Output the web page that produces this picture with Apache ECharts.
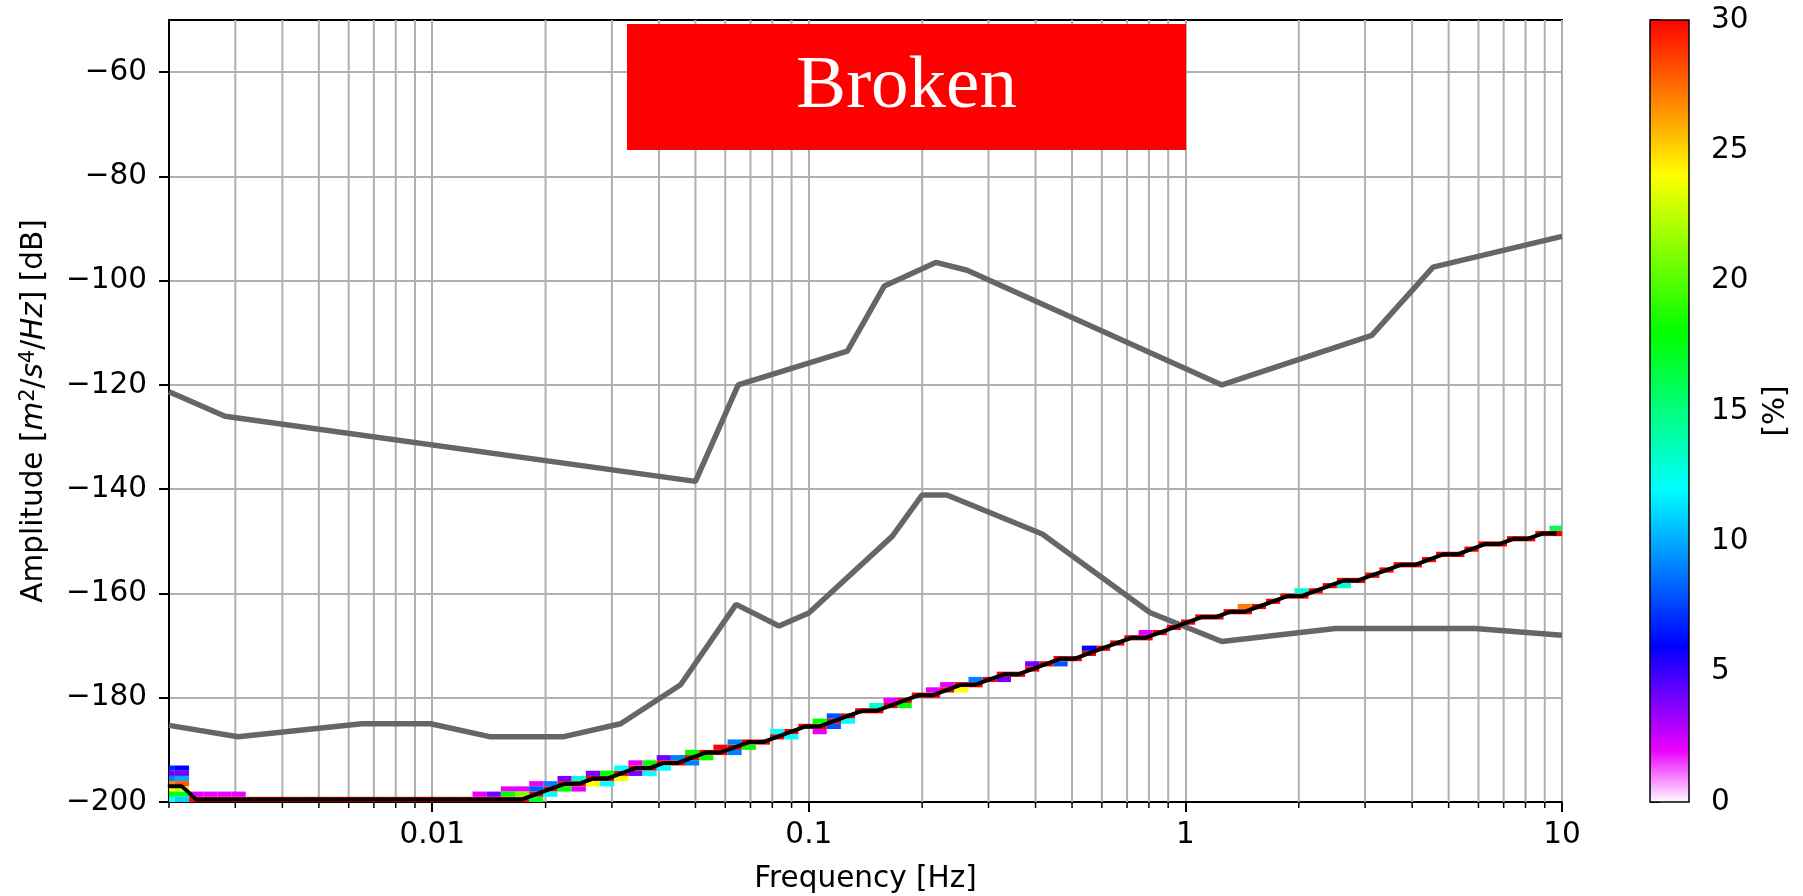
<!DOCTYPE html>
<html><head><meta charset="utf-8">
<script src="https://cdn.jsdelivr.net/npm/echarts@6/dist/echarts.min.js"></script>
<style>html,body{margin:0;padding:0;background:#fff}#c{width:1803px;height:896px}</style>
</head><body><div id="c"></div>
<script>
// ---------- DATA ----------
// frequency bins (1/8 octave) of the probability density columns [Hz]
const freqBins = [0.0019856,0.0021653,0.0023613,0.002575,0.0028081,0.0030622,0.0033394,0.0036416,0.0039712,0.0043306,
0.0047226,0.00515,0.0056161,0.0061244,0.0066787,0.0072832,0.0079424,0.0086612,0.0094452,0.0103,
0.011232,0.012249,0.013357,0.014566,0.015885,0.017322,0.01889,0.0206,0.022464,0.024498,
0.026715,0.029133,0.03177,0.034645,0.037781,0.0412,0.044929,0.048995,0.05343,0.058265,
0.063539,0.06929,0.075561,0.0824,0.089858,0.097991,0.10686,0.11653,0.12708,0.13858,
0.15112,0.1648,0.17972,0.19598,0.21372,0.23306,0.25416,0.27716,0.30224,0.3296,
0.35943,0.39196,0.42744,0.46612,0.50831,0.55432,0.60449,0.6592,0.71886,0.78393,
0.85487,0.93225,1.0166,1.1086,1.209,1.3184,1.4377,1.5679,1.7098,1.8645,
2.0332,2.2173,2.418,2.6368,2.8755,3.1357,3.4195,3.729,4.0665,4.4346,
4.8359,5.2736,5.7509,6.2714,6.839,7.4579,8.1329,8.869,9.6717];

// mean PSD (black curve) [dB]
const meanDb = [-197,-197,-199.5,-199.5,-199.5,-199.5,-199.5,-199.5,-199.5,-199.5,
-199.5,-199.5,-199.5,-199.5,-199.5,-199.5,-199.5,-199.5,-199.5,-199.5,
-199.5,-199.5,-199.5,-199.5,-199.5,-199.5,-198.5,-197.5,-196.5,-196.5,
-195.5,-195.5,-194.5,-193.5,-193.5,-192.5,-192.5,-191.5,-190.5,-190.5,
-189.5,-188.5,-188.5,-187.5,-186.5,-185.5,-185.5,-184.5,-183.5,-182.5,
-182.5,-181.5,-180.5,-179.5,-179.5,-178.5,-177.5,-177.5,-176.5,-175.5,
-175.5,-174.5,-173.5,-172.5,-172.5,-171.5,-170.5,-169.5,-168.5,-168.5,
-167.5,-166.5,-165.5,-164.5,-164.5,-163.5,-163.5,-162.5,-161.5,-160.5,
-160.5,-159.5,-158.5,-157.5,-157.5,-156.5,-155.5,-154.5,-154.5,-153.5,
-152.5,-152.5,-151.5,-150.5,-150.5,-149.5,-149.5,-148.5,-148.5];

// most populated 1-dB bin (lower edge) per column; these cells are saturated (>= 30 %)
const modeBin = [null,null,-200,-200,-200,-200,-200,-200,-200,-200,
-200,-200,-200,-200,-200,-200,-200,-200,-200,-200,
-200,-200,-200,-200,-200,-200,-199,-198,-197,-197,
-196,-196,-195,-194,-194,-193,-193,-192,-191,-191,
-190,-189,-189,-188,-187,-186,-186,-185,-184,-183,
-183,-182,-181,-180,-180,-179,-178,-178,-177,-176,
-176,-175,-174,-173,-173,-172,-171,-170,-169,-169,
-168,-167,-166,-165,-165,-164,-164,-163,-162,-161,
-161,-160,-159,-158,-158,-157,-156,-155,-155,-154,
-153,-153,-152,-151,-151,-150,-150,-149,-149];
const modePct = 60;

// other populated cells: [column index, dB bin lower edge, percent]
const extraCells = [
[0,-194,7],[0,-195,4],[0,-196,9],[0,-197,27],[0,-198,24],[0,-199,18],[0,-200,12],
[1,-194,6],[1,-195,4],[1,-196,10],[1,-197,28],[1,-198,23],[1,-199,17],[1,-200,11],
[2,-199,2],[3,-199,2],[4,-199,2],[5,-199,2],
[22,-199,2],[23,-199,4],[24,-198,2],[24,-199,18],[25,-198,2],[25,-199,21],
[26,-197,2],[26,-198,8],[26,-200,17],[27,-197,9],[27,-199,12],
[28,-196,4],[28,-198,18],[29,-196,13],[29,-198,2],[30,-195,4],[30,-197,24],
[31,-195,18],[31,-197,12],[32,-194,12],[32,-196,24],[33,-193,2],[33,-195,4],
[34,-193,18],[34,-195,12],[35,-192,4],[35,-194,12],[36,-192,9],
[37,-191,18],[37,-193,9],[38,-192,18],[39,-190,40],[40,-189,9],[40,-191,9],
[41,-190,18],[43,-187,12],[44,-188,12],[46,-185,18],[46,-187,2],
[47,-184,8],[47,-186,8],[48,-185,12],[50,-182,13],[51,-181,2],[52,-182,18],
[54,-179,2],[55,-178,2],[56,-179,24],[57,-177,9],[59,-177,4],[61,-174,4],
[63,-174,8],[65,-171,6],[69,-168,2],[76,-163,27],[80,-160,13],[83,-159,13],[98,-148,16]
];

// reference noise models (grey curves)
const highModelFreq = [0.002,0.002818,0.05,0.06494,0.1266,0.1587,0.2174,0.2632,1.25,3.125,4.545,10];
const highModelDb   = [-121.3,-126.0,-138.5,-120.0,-113.5,-101.0,-96.5,-98.0,-120.0,-110.5,-97.4,-91.5];
const lowModelFreq  = [0.002,0.003049,0.006494,0.009901,0.01429,0.02222,0.03165,0.04566,0.0641,0.08333,0.1,0.1667,0.2,0.2326,0.4167,0.8065,1.25,2.5,5.882,10];
const lowModelDb    = [-185.3,-187.5,-185.0,-185.0,-187.5,-187.5,-185.0,-177.5,-162.1,-166.25,-163.75,-149.0,-141.1,-141.1,-148.6,-163.7,-169.2,-166.7,-166.7,-168.0];

// axes
const xMin = 0.002, xMax = 10;
const yMin = -200, yMax = -50, yStep = 20;
const xTickValues = [0.01, 0.1, 1, 10];
const xTickLabels = ['0.01', '0.1', '1', '10'];
const yTickValues = [-200, -180, -160, -140, -120, -100, -80, -60];
const xMinorTicks = [0.002,0.003,0.004,0.005,0.006,0.007,0.008,0.009,
  0.02,0.03,0.04,0.05,0.06,0.07,0.08,0.09,
  0.2,0.3,0.4,0.5,0.6,0.7,0.8,0.9,
  2,3,4,5,6,7,8,9];
const cbMin = 0, cbMax = 30, cbStep = 5;
const dbBinWidth = 1;
const annotationText = 'Broken';

// colormap (evenly spaced from 0 to 30 %)
const palette = ['#ffffff','#eb00ff','#7500ff','#0000ff','#0055ff','#00aaff','#00ffff','#00ffaa',
  '#00ff55','#00ff00','#55ff00','#aaff00','#ffff00','#ffaa00','#ff5500','#ff0000'];

// ---------- BUILD ----------
const n = freqBins.length;
function loEdge(i){ return i > 0 ? Math.sqrt(freqBins[i-1]*freqBins[i]) : freqBins[0]*freqBins[0]/Math.sqrt(freqBins[0]*freqBins[1]); }
function hiEdge(i){ return i < n-1 ? Math.sqrt(freqBins[i]*freqBins[i+1]) : freqBins[i]*freqBins[i]/Math.sqrt(freqBins[i-1]*freqBins[i]); }
const cellData = [];
modeBin.forEach((b, i) => { if (b !== null) cellData.push([loEdge(i), hiEdge(i), b, modePct]); });
extraCells.forEach(c => cellData.push([loEdge(c[0]), hiEdge(c[0]), c[1], c[2]]));

const FONT = 'DejaVu Sans';
const FS = 29.5;
const minus = v => (v < 0 ? '\u2212' + Math.abs(v) : String(v));

const chart = echarts.init(document.getElementById('c'), null, {renderer: 'canvas'});
chart.setOption({
  animation: false,
  backgroundColor: '#ffffff',
  textStyle: {fontFamily: FONT},
  grid: [
    {left: 169, top: 20, width: 1393, height: 782, show: true, borderColor: '#000', borderWidth: 2,
     backgroundColor: 'transparent', containLabel: false, outerBoundsMode: 'none'},
    {left: 1650, top: 20, width: 39, height: 782, show: false, containLabel: false, outerBoundsMode: 'none'}
  ],
  visualMap: {
    type: 'continuous', show: false, min: cbMin, max: cbMax, dimension: 3, seriesIndex: 1,
    inRange: {color: palette}, outOfRange: {color: palette[palette.length - 1]}
  },
  xAxis: [
    {type: 'log', logBase: 10, gridIndex: 0, min: xMin, max: xMax,
     axisLine: {show: true, onZero: false, lineStyle: {color: '#000', width: 2}},
     axisTick: {show: true, length: 10, lineStyle: {color: '#000', width: 2}, customValues: xTickValues},
     axisLabel: {show: true, fontSize: FS, fontFamily: FONT, color: '#000', margin: 18, customValues: xTickValues,
       formatter: v => { const k = xTickValues.findIndex(t => Math.abs(Math.log10(v) - Math.log10(t)) < 1e-6); return k >= 0 ? xTickLabels[k] : ''; }},
     splitLine: {show: true, lineStyle: {color: '#b0b0b0', width: 2}},
     name: 'Frequency [Hz]', nameLocation: 'middle', nameGap: 62,
     nameTextStyle: {fontSize: FS, fontFamily: FONT, color: '#000'}},
    {type: 'value', gridIndex: 1, min: 0, max: 1, show: false}
  ],
  yAxis: [
    {type: 'value', gridIndex: 0, min: yMin, max: yMax, interval: yStep,
     axisLine: {show: true, onZero: false, lineStyle: {color: '#000', width: 2}},
     axisTick: {show: true, length: 10, lineStyle: {color: '#000', width: 2}, customValues: yTickValues},
     axisLabel: {fontSize: FS, fontFamily: FONT, color: '#000', margin: 22, customValues: yTickValues, formatter: minus},
     splitLine: {show: true, lineStyle: {color: '#b0b0b0', width: 2}},
     name: 'Amplitude [{it|m}{sup|2}/{it|s}{sup|4}/{it|Hz}] [dB]', nameLocation: 'middle', nameGap: 118, nameRotate: 90,
     nameTextStyle: {fontSize: FS, fontFamily: FONT, color: '#000',
       rich: {it: {fontStyle: 'italic', fontSize: FS, fontFamily: FONT, color: '#000'},
              sup: {fontSize: 21, fontFamily: FONT, color: '#000', padding: [0, 0, 12, 0]}}}},
    {type: 'value', gridIndex: 1, min: cbMin, max: cbMax, interval: cbStep, position: 'right',
     axisLine: {show: false},
     axisTick: {show: true, length: 10, lineStyle: {color: '#000', width: 2}},
     axisLabel: {fontSize: FS, fontFamily: FONT, color: '#000', margin: 22},
     splitLine: {show: false},
     name: '[%]', nameLocation: 'middle', nameGap: 72, nameRotate: 90,
     nameTextStyle: {fontSize: FS, fontFamily: FONT, color: '#000'}}
  ],
  series: [
    { // minor log grid lines + minor ticks
      type: 'custom', xAxisIndex: 0, yAxisIndex: 0, z: 1, silent: true, clip: false,
      data: xMinorTicks.map(f => [f, yMin]),
      encode: {x: 0, y: 1},
      renderItem: (params, api) => {
        const f = api.value(0);
        const bot = api.coord([f, yMin]), top = api.coord([f, yMax]);
        const children = [];
        if (f > xMin) children.push({type: 'line', shape: {x1: bot[0], y1: bot[1], x2: top[0], y2: top[1]},
          style: {stroke: '#b0b0b0', lineWidth: 2}});
        children.push({type: 'line', shape: {x1: bot[0], y1: bot[1], x2: bot[0], y2: bot[1] + 6},
          style: {stroke: '#000', lineWidth: 1.5}});
        return {type: 'group', children};
      }
    },
    { // probability density cells
      type: 'custom', xAxisIndex: 0, yAxisIndex: 0, z: 3, silent: true,
      data: cellData, encode: {x: [0, 1], y: 2},
      renderItem: (params, api) => {
        const p0 = api.coord([api.value(0), api.value(2) + dbBinWidth]);
        const p1 = api.coord([api.value(1), api.value(2)]);
        const cs = params.coordSys;
        const shape = echarts.graphic.clipRectByRect(
          {x: p0[0], y: p0[1], width: p1[0] - p0[0], height: p1[1] - p0[1]},
          {x: cs.x, y: cs.y, width: cs.width, height: cs.height});
        if (!shape) return;
        return {type: 'rect', shape, style: {fill: api.visual('color')}};
      }
    },
    {type: 'line', xAxisIndex: 0, yAxisIndex: 0, z: 4, silent: true, symbol: 'none',
     data: highModelFreq.map((f, i) => [f, highModelDb[i]]),
     lineStyle: {color: '#666666', width: 5.5}},
    {type: 'line', xAxisIndex: 0, yAxisIndex: 0, z: 4, silent: true, symbol: 'none',
     data: lowModelFreq.map((f, i) => [f, lowModelDb[i]]),
     lineStyle: {color: '#666666', width: 5.5}},
    {type: 'line', xAxisIndex: 0, yAxisIndex: 0, z: 5, silent: true, symbol: 'none',
     data: freqBins.map((f, i) => [f, meanDb[i]]),
     lineStyle: {color: '#000000', width: 4}},
    { // colour bar
      type: 'custom', xAxisIndex: 1, yAxisIndex: 1, z: 3, silent: true,
      data: [[0, cbMin, cbMax]],
      renderItem: (params, api) => {
        const p0 = api.coord([0, cbMax]);
        const p1 = api.coord([1, cbMin]);
        return {type: 'rect', shape: {x: p0[0], y: p0[1], width: p1[0] - p0[0], height: p1[1] - p0[1]},
          style: {stroke: '#000', lineWidth: 1.5,
            fill: new echarts.graphic.LinearGradient(0, 1, 0, 0,
              palette.map((c, j) => ({offset: j / (palette.length - 1), color: c})))}};
      }
    }
  ],
  graphic: [
    {type: 'rect', z: 100, shape: {x: 627, y: 24, width: 559, height: 126}, style: {fill: '#ff0000'}},
    {type: 'text', z: 101, x: 906.5, y: 87,
     style: {text: annotationText, fill: '#ffffff', font: '75px "Liberation Serif"', align: 'center', verticalAlign: 'middle'}}
  ]
});
</script>
</body></html>
